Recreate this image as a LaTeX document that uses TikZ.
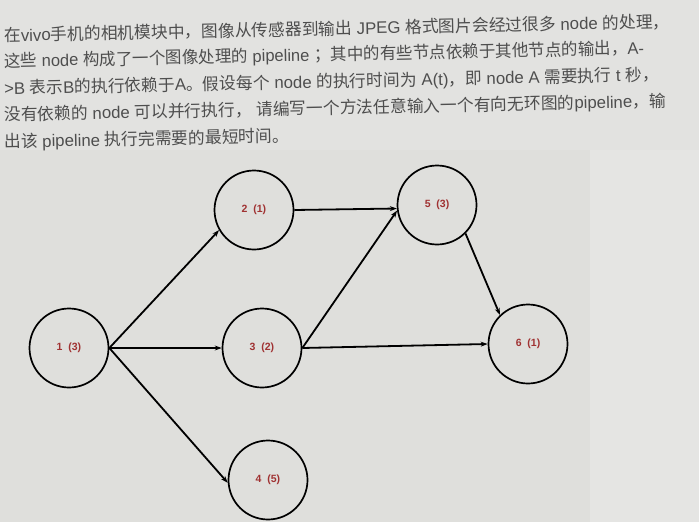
\documentclass[tikz,border=0pt]{standalone}
\usepackage{fontspec}
\newfontfamily\cjk{Noto Sans CJK SC}
\newfontfamily\latfont{Liberation Sans}
\setmainfont{Liberation Sans}
\newcommand\latseg[1]{{\latfont #1}}
\usetikzlibrary{arrows.meta}
\definecolor{bg}{RGB}{223,223,220}
\definecolor{bgr}{RGB}{229,229,227}
\definecolor{bgt}{RGB}{226,226,224}
\definecolor{txt}{RGB}{78,78,78}
\definecolor{lab}{RGB}{160,50,50}
\tikzset{
  vtx/.style={circle, draw=black, line width=1.7pt, minimum size=79pt, inner sep=0pt,
    font=\fontsize{10.5}{12}\selectfont\bfseries, text=lab},
  edge/.style={draw=black, line width=1.8pt, -{Stealth[length=7pt,width=5pt]}},
  para/.style={anchor=west, inner sep=0pt, text=txt, rotate=1.2, font=\cjk\fontsize{16.75}{19}\selectfont}
}
\begin{document}
\begin{tikzpicture}[x=1pt,y=-1pt]
\useasboundingbox (0,0) rectangle (699,522);
\fill[bgt] (0,0) rectangle (699,522);
\fill[bg] (0,150) rectangle (590,522);
\fill[bgr] (590,150) rectangle (699,522);
\node[para] (l1) at (4,35.5) {在\latseg{vivo}手机的相机模块中，图像从传感器到输出\latseg{ JPEG }格式图片会经过很多\latseg{ node }的处理，};
\node[para] (l2) at (4,62) {\scalebox{0.985}[1]{这些\latseg{ node }构成了一个图像处理的\latseg{ pipeline }；其中的有些节点依赖于其他节点的输出，\latseg{A-}}};
\node[para] (l3) at (4,89) {\latseg{>B }表示\latseg{B}的执行依赖于\latseg{A}。假设每个\latseg{ node }的执行时间为\latseg{ A(t)}，即\latseg{ node A }需要执行\latseg{ t }秒，};
\node[para] (l4) at (4,115.5) {没有依赖的\latseg{ node }可以并行执行，\latseg{ }请编写一个方法任意输入一个有向无环图的\latseg{pipeline}，输};
\node[para] (l5) at (4,142.5) {出该\latseg{ pipeline }执行完需要的最短时间。};
\node[vtx] (n1) at (69,348) {1\ \ (3)};
\node[vtx] (n2) at (254,210) {2\ \ (1)};
\node[vtx] (n3) at (262,348) {3\ \ (2)};
\node[vtx] (n4) at (268,480) {4\ \ (5)};
\node[vtx] (n5) at (437,205) {5\ \ (3)};
\node[vtx] (n6) at (528,344) {6\ \ (1)};
\draw[edge] (n1.east) -- (n2.210);
\draw[edge] (n1.east) -- (n3.west);
\draw[edge] (n1.east) -- (n4.184);
\draw[edge] (n2.east) -- (n5.185);
\draw[edge] (n3.east) -- (n5.188);
\draw[edge] (n3.east) -- (n6.west);
\draw[edge] (n5.-45) -- (n6.134);
\end{tikzpicture}
\end{document}
